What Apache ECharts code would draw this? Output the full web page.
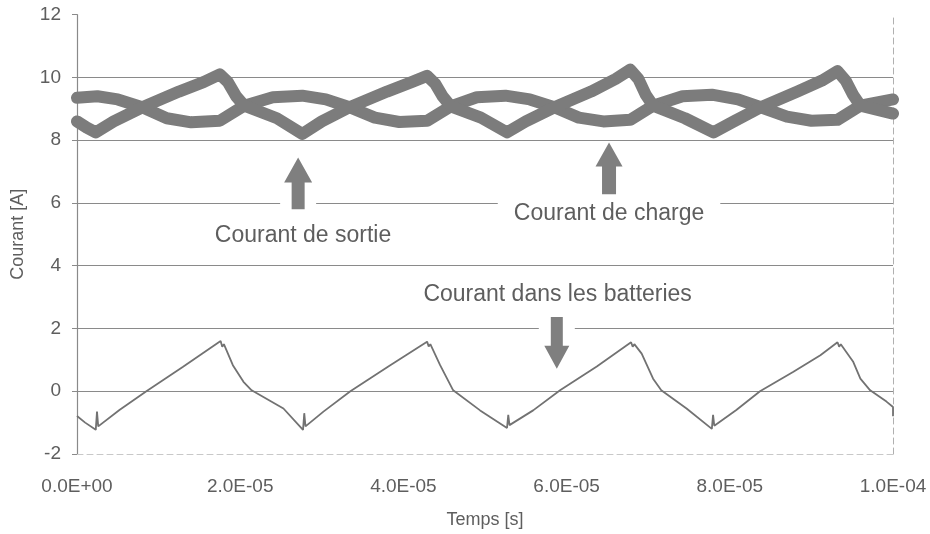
<!DOCTYPE html>
<html>
<head>
<meta charset="utf-8">
<script src="https://cdn.jsdelivr.net/npm/echarts@6/dist/echarts.min.js"></script>
<style>
html,body{margin:0;padding:0;background:#fff;}
#c{width:930px;height:534px;}
</style>
</head>
<body>
<div id="c"></div>
<script>
// Time in microseconds (axis labels shown in seconds)
const xTicks = [0, 20, 40, 60, 80, 100];
const yTicks = [-2, 0, 2, 4, 6, 8, 10, 12];

// Courant de sortie (noisy band, follows battery current)
const sortieT = [0, 1.2, 2.3, 4.5, 8.0, 12.5, 15.5, 17.5, 18.5, 19.5, 20.5, 24.5, 27.6, 30.0, 33.4, 38.0, 41.0, 42.9, 43.9, 44.8, 45.8, 49.5, 52.7, 55.0, 58.5, 63.0, 66.0, 67.8, 68.8, 69.7, 70.6, 74.5, 78.0, 80.5, 83.8, 88.3, 91.3, 93.2, 94.2, 95.1, 96.0, 100];
const sortieV = [8.6, 8.4, 8.25, 8.6, 9.05, 9.55, 9.85, 10.1, 9.85, 9.4, 9.1, 8.7, 8.2, 8.6, 9.05, 9.55, 9.85, 10.05, 9.8, 9.4, 9.08, 8.72, 8.25, 8.6, 9.05, 9.55, 9.95, 10.25, 9.95, 9.45, 9.1, 8.7, 8.25, 8.6, 9.05, 9.55, 9.9, 10.2, 9.9, 9.45, 9.1, 8.85];

// Courant de charge (noisy band, small inverted swing)
const chargeT = [0, 2.5, 5.0, 8.0, 11.0, 14.0, 17.5, 20.5, 24.0, 27.6, 30.5, 33.4, 36.5, 39.5, 42.9, 45.8, 49.0, 52.5, 55.5, 58.5, 61.5, 64.5, 67.8, 70.6, 74.2, 77.8, 81.0, 83.8, 87.0, 90.0, 93.2, 96.0, 100];
const chargeV = [9.35, 9.4, 9.3, 9.05, 8.7, 8.57, 8.62, 9.1, 9.37, 9.42, 9.3, 9.05, 8.72, 8.58, 8.62, 9.08, 9.37, 9.42, 9.3, 9.05, 8.72, 8.6, 8.65, 9.1, 9.4, 9.45, 9.3, 9.05, 8.75, 8.62, 8.65, 9.1, 9.3];

// Courant dans les batteries
const battT = [0, 1.0, 2.3, 2.45, 2.6, 5.2, 8.5, 13.0, 17.6, 17.8, 18.0, 19.1, 20.4, 21.4, 25.3, 27.7, 27.85, 28.0, 30.2, 33.5, 38.2, 42.9, 43.1, 43.3, 44.5, 46.1, 49.4, 52.7, 52.85, 53.0, 55.9, 59.2, 63.7, 67.9, 68.1, 68.3, 69.2, 70.6, 71.6, 74.7, 77.8, 77.95, 78.1, 80.8, 83.7, 87.8, 91.1, 93.2, 93.4, 93.6, 95.1, 96.0, 97.2, 99.2, 100, 100];
const battV = [-0.79, -1.0, -1.23, -0.65, -1.12, -0.6, 0.0, 0.78, 1.6, 1.42, 1.5, 0.83, 0.3, 0.03, -0.55, -1.23, -0.7, -1.12, -0.65, 0.0, 0.8, 1.58, 1.43, 1.5, 0.83, 0.03, -0.61, -1.17, -0.75, -1.08, -0.61, 0.03, 0.79, 1.56, 1.42, 1.5, 1.2, 0.4, 0.03, -0.55, -1.2, -0.75, -1.1, -0.6, 0.0, 0.62, 1.15, 1.56, 1.42, 1.5, 0.95, 0.4, 0.03, -0.33, -0.5, -0.8];

const annTexts = ['Courant de sortie', 'Courant de charge', 'Courant dans les batteries'];

function pairs(t, v) { return t.map((x, i) => [x, v[i]]); }
function sciLabel(us) {
  if (us === 0) return '0.0E+00';
  const s = us * 1e-6;
  const e = Math.floor(Math.log10(s) + 1e-9);
  const m = s / Math.pow(10, e);
  const sign = e < 0 ? '-' : '+';
  const ea = Math.abs(e);
  return m.toFixed(1) + 'E' + sign + (ea < 10 ? '0' + ea : '' + ea);
}

const FONT = '"Liberation Sans", Arial, sans-serif';
const TXT = '#5e5e5e';
const chart = echarts.init(document.getElementById('c'), null, {renderer: 'canvas'});

const option = {
  animation: false,
  backgroundColor: '#fff',
  grid: {left: 77, right: 37, top: 14.7, bottom: 78.3, containLabel: false},
  xAxis: {
    type: 'value', min: 0, max: 100, interval: 20,
    name: 'Temps [s]', nameLocation: 'middle', nameGap: 57,
    nameTextStyle: {fontFamily: FONT, fontSize: 18, color: TXT},
    axisLine: {show: true, onZero: false, lineStyle: {color: '#c8c8c8', width: 1, type: [6, 4]}},
    axisTick: {show: false},
    splitLine: {show: false},
    axisLabel: {formatter: sciLabel, fontFamily: FONT, fontSize: 19, color: TXT, margin: 23}
  },
  yAxis: [{
    type: 'value', min: -2, max: 12, interval: 2,
    name: 'Courant [A]', nameLocation: 'middle', nameGap: 50, nameRotate: 90,
    nameTextStyle: {fontFamily: FONT, fontSize: 18, color: TXT},
    axisLine: {show: true, lineStyle: {color: '#8a8a8a', width: 1.2}},
    axisTick: {show: true, length: 5, lineStyle: {color: '#8a8a8a'}},
    axisLabel: {fontFamily: FONT, fontSize: 19, color: TXT, margin: 16},
    splitLine: {show: true, lineStyle: {color: ['rgba(0,0,0,0)', '#8a8a8a', '#8a8a8a', '#8a8a8a', '#8a8a8a', '#8a8a8a', '#8a8a8a', 'rgba(0,0,0,0)'], width: 1}}
  }, {
    type: 'value', min: -2, max: 12, interval: 2, position: 'right',
    axisLine: {show: true, lineStyle: {color: '#b0b0b0', width: 1, type: [6, 4]}},
    axisTick: {show: false}, axisLabel: {show: false}, splitLine: {show: false}
  }],
  series: [
    {type: 'line', name: 'Courant de charge', data: pairs(chargeT, chargeV), showSymbol: false, z: 3,
     lineStyle: {color: '#7c7c7c', width: 12, join: 'round', cap: 'round'}},
    {type: 'line', name: 'Courant de sortie', data: pairs(sortieT, sortieV), showSymbol: false, z: 4,
     lineStyle: {color: '#7c7c7c', width: 12, join: 'round', cap: 'round'}},
    {type: 'line', name: 'Courant dans les batteries', data: pairs(battT, battV), showSymbol: false, z: 5,
     lineStyle: {color: '#727272', width: 1.8}}
  ]
};
chart.setOption(option);

function px(x, y) { return chart.convertToPixel({xAxisIndex: 0, yAxisIndex: 0}, [x, y]); }
function arrow(x, yTip, yBase, shaftW, headW, headL) {
  const t = px(x, yTip), b = px(x, yBase);
  const cx = t[0], ty = t[1], by = b[1];
  const dir = by > ty ? 1 : -1; // 1 = pointing up
  const hy = ty + dir * headL;
  return [[cx, ty], [cx + headW / 2, hy], [cx + shaftW / 2, hy], [cx + shaftW / 2, by],
          [cx - shaftW / 2, by], [cx - shaftW / 2, hy], [cx - headW / 2, hy]];
}
function whiteBox(x, y1, y2, w) {
  const a = px(x, y1), b = px(x, y2);
  return {type: 'rect', shape: {x: a[0] - w / 2, y: Math.min(a[1], b[1]), width: w, height: Math.abs(b[1] - a[1])},
          style: {fill: '#fff'}, z: 50};
}
function label(text, x, y, padX) {
  const p = px(x, y);
  return {type: 'text', x: p[0], y: p[1], z: 60,
          style: {text: text, font: '23px ' + FONT, fill: TXT, align: 'center', verticalAlign: 'middle',
                  backgroundColor: padX ? '#fff' : null, padding: padX ? [3, padX] : 0}};
}
const ARROW = '#7f7f7f';
chart.setOption({
  graphic: [
    whiteBox(27.1, 7.3, 5.7, 36),
    {type: 'polygon', z: 55, shape: {points: arrow(27.1, 7.45, 5.8, 13, 28, 25)}, style: {fill: ARROW}},
    {type: 'polygon', z: 55, shape: {points: arrow(65.2, 7.93, 6.28, 14, 27, 24)}, style: {fill: ARROW}},
    whiteBox(58.8, 2.55, 0.9, 36),
    {type: 'polygon', z: 55, shape: {points: arrow(58.8, 0.72, 2.37, 12, 25, 23)}, style: {fill: ARROW}},
    label(annTexts[0], 27.7, 4.97, 0),
    label(annTexts[1], 65.2, 5.67, 16),
    label(annTexts[2], 58.9, 3.07, 0)
  ]
});
</script>
</body>
</html>
